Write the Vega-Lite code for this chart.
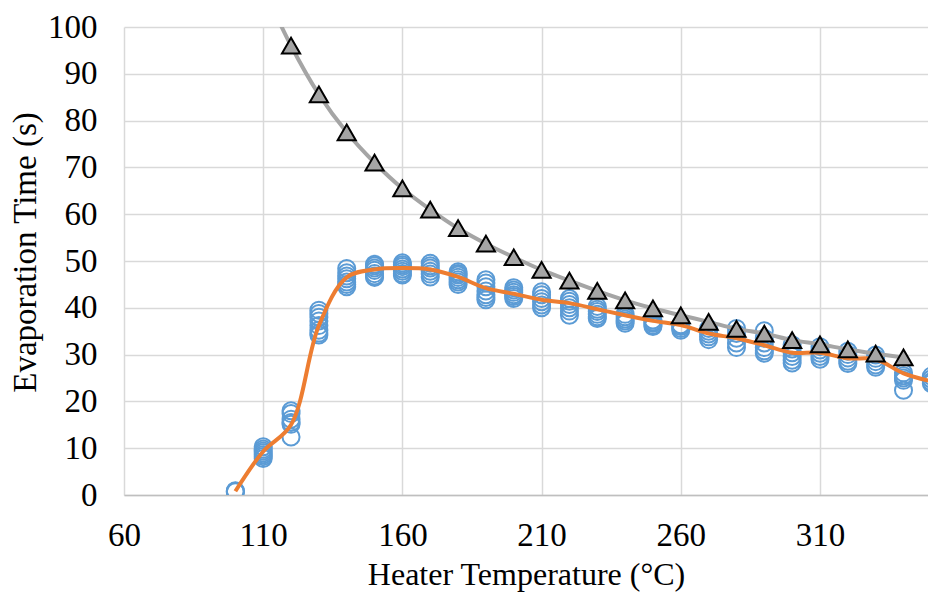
{
  "$schema": "https://vega.github.io/schema/vega-lite/v6.json",
  "width": 804,
  "height": 468,
  "autosize": {"type": "none"},
  "padding": {"left": 124, "top": 27, "right": 0, "bottom": 99},
  "config": {"view": {"stroke": null}, "font": "Liberation Serif"},
  "datasets": {
    "measured": [
      {"T":100,"v":0.7},{"T":100,"v":0.8},{"T":100,"v":0.9},
      {"T":110,"v":7.8},{"T":110,"v":8.2},{"T":110,"v":8.6},{"T":110,"v":9.0},{"T":110,"v":9.4},{"T":110,"v":9.8},{"T":110,"v":10.3},
      {"T":120,"v":18.0},{"T":120,"v":17.4},{"T":120,"v":16.2},{"T":120,"v":15.5},{"T":120,"v":15.1},{"T":120,"v":12.4},
      {"T":130,"v":39.5},{"T":130,"v":38.8},{"T":130,"v":38.0},{"T":130,"v":37.2},{"T":130,"v":36.2},{"T":130,"v":35.2},{"T":130,"v":34.6},{"T":130,"v":34.2},
      {"T":140,"v":48.4},{"T":140,"v":47.5},{"T":140,"v":46.8},{"T":140,"v":46.2},{"T":140,"v":45.5},{"T":140,"v":45.0},{"T":140,"v":44.5},
      {"T":150,"v":49.3},{"T":150,"v":49.0},{"T":150,"v":48.5},{"T":150,"v":48.0},{"T":150,"v":47.3},{"T":150,"v":46.8},{"T":150,"v":46.5},
      {"T":160,"v":49.6},{"T":160,"v":49.2},{"T":160,"v":48.8},{"T":160,"v":48.3},{"T":160,"v":47.8},{"T":160,"v":47.3},{"T":160,"v":47.0},
      {"T":170,"v":49.5},{"T":170,"v":49.0},{"T":170,"v":48.5},{"T":170,"v":47.8},{"T":170,"v":47.2},{"T":170,"v":46.6},
      {"T":180,"v":47.7},{"T":180,"v":47.3},{"T":180,"v":47.0},{"T":180,"v":46.5},{"T":180,"v":46.0},{"T":180,"v":45.5},{"T":180,"v":45.0},
      {"T":190,"v":46.0},{"T":190,"v":45.3},{"T":190,"v":44.5},{"T":190,"v":43.6},{"T":190,"v":42.8},{"T":190,"v":42.2},{"T":190,"v":41.7},
      {"T":200,"v":44.3},{"T":200,"v":43.8},{"T":200,"v":43.3},{"T":200,"v":42.8},{"T":200,"v":42.4},{"T":200,"v":42.0},
      {"T":210,"v":43.4},{"T":210,"v":42.8},{"T":210,"v":42.0},{"T":210,"v":41.3},{"T":210,"v":40.6},{"T":210,"v":40.0},
      {"T":220,"v":42.0},{"T":220,"v":41.4},{"T":220,"v":40.7},{"T":220,"v":40.0},{"T":220,"v":39.3},{"T":220,"v":38.4},
      {"T":230,"v":40.3},{"T":230,"v":39.7},{"T":230,"v":39.2},{"T":230,"v":38.6},{"T":230,"v":38.1},{"T":230,"v":37.7},
      {"T":240,"v":38.6},{"T":240,"v":38.1},{"T":240,"v":37.6},{"T":240,"v":37.2},{"T":240,"v":36.7},
      {"T":250,"v":37.4},{"T":250,"v":37.0},{"T":250,"v":36.7},{"T":250,"v":36.3},{"T":250,"v":36.0},
      {"T":260,"v":36.4},{"T":260,"v":36.0},{"T":260,"v":35.6},{"T":260,"v":35.2},
      {"T":270,"v":35.6},{"T":270,"v":35.0},{"T":270,"v":34.4},{"T":270,"v":33.8},{"T":270,"v":33.2},
      {"T":280,"v":35.6},{"T":280,"v":34.5},{"T":280,"v":33.5},{"T":280,"v":32.5},{"T":280,"v":31.5},
      {"T":290,"v":35.1},{"T":290,"v":33.5},{"T":290,"v":32.5},{"T":290,"v":31.5},{"T":290,"v":30.8},{"T":290,"v":30.3},
      {"T":300,"v":32.1},{"T":300,"v":31.2},{"T":300,"v":30.4},{"T":300,"v":29.6},{"T":300,"v":28.8},{"T":300,"v":28.2},
      {"T":310,"v":31.7},{"T":310,"v":31.0},{"T":310,"v":30.3},{"T":310,"v":29.6},{"T":310,"v":29.0},
      {"T":320,"v":30.7},{"T":320,"v":30.0},{"T":320,"v":29.3},{"T":320,"v":28.6},{"T":320,"v":28.1},
      {"T":330,"v":29.9},{"T":330,"v":29.2},{"T":330,"v":28.5},{"T":330,"v":27.8},{"T":330,"v":27.3},
      {"T":340,"v":26.1},{"T":340,"v":25.5},{"T":340,"v":25.0},{"T":340,"v":24.5},{"T":340,"v":22.4},
      {"T":350,"v":25.4},{"T":350,"v":24.8},{"T":350,"v":24.2},{"T":350,"v":23.8}
    ],
    "average": [
      {"T":100,"v":0.8},{"T":110,"v":9.3},{"T":120,"v":15.0},{"T":130,"v":36.2},{"T":140,"v":46.5},
      {"T":150,"v":48.2},{"T":160,"v":48.5},{"T":170,"v":48.2},{"T":180,"v":46.6},{"T":190,"v":44.2},
      {"T":200,"v":43.0},{"T":210,"v":41.7},{"T":220,"v":41.0},{"T":230,"v":39.7},{"T":240,"v":38.4},
      {"T":250,"v":37.2},{"T":260,"v":36.3},{"T":270,"v":34.5},{"T":280,"v":33.5},{"T":290,"v":32.0},
      {"T":300,"v":30.4},{"T":310,"v":30.4},{"T":320,"v":29.2},{"T":330,"v":29.0},{"T":340,"v":26.0},
      {"T":350,"v":24.3}
    ],
    "theory": [
      {"T":110,"v":108.5},{"T":120,"v":96.0},{"T":130,"v":85.6},{"T":140,"v":77.5},{"T":150,"v":71.0},
      {"T":160,"v":65.5},{"T":170,"v":61.0},{"T":180,"v":57.0},{"T":190,"v":53.7},{"T":200,"v":50.8},
      {"T":210,"v":48.1},{"T":220,"v":45.8},{"T":230,"v":43.6},{"T":240,"v":41.6},{"T":250,"v":39.9},
      {"T":260,"v":38.4},{"T":270,"v":37.0},{"T":280,"v":35.5},{"T":290,"v":34.5},{"T":300,"v":33.1},
      {"T":310,"v":32.2},{"T":320,"v":31.1},{"T":330,"v":30.2},{"T":340,"v":29.4}
    ]
  },
  "encoding": {
    "x": {
      "field": "T", "type": "quantitative",
      "scale": {"domain": [60, 348.8], "nice": false, "zero": false},
      "axis": {
        "values": [60, 110, 160, 210, 260, 310],
        "grid": true, "gridColor": "#d9d9d9", "gridWidth": 1.5,
        "domain": true, "domainColor": "#bfbfbf", "domainWidth": 1.5,
        "ticks": false, "tickSize": 0,
        "labelFont": "Liberation Serif", "labelFontSize": 33, "labelColor": "#000000",
        "labelBaseline": "alphabetic", "labelPadding": 50, "labelFlush": false, "labelOverlap": false,
        "title": "Heater Temperature (°C)",
        "titleFont": "Liberation Serif", "titleFontSize": 32, "titleFontWeight": "normal", "titleColor": "#000000",
        "titleBaseline": "alphabetic", "titleY": 89
      }
    },
    "y": {
      "field": "v", "type": "quantitative",
      "scale": {"domain": [0, 100], "nice": false},
      "axis": {
        "values": [0, 10, 20, 30, 40, 50, 60, 70, 80, 90, 100],
        "grid": true, "gridColor": "#d9d9d9", "gridWidth": 1.5,
        "domain": false, "ticks": false, "tickSize": 0,
        "labelFont": "Liberation Serif", "labelFontSize": 33, "labelColor": "#000000",
        "labelPadding": 27, "labelFlush": false, "labelOverlap": false,
        "title": "Evaporation Time (s)",
        "titleFont": "Liberation Serif", "titleFontSize": 33, "titleFontWeight": "normal", "titleColor": "#000000",
        "titleAngle": -90, "titleBaseline": "middle", "titleAlign": "center", "titleX": -99, "titleY": 225
      }
    }
  },
  "layer": [
    {
      "data": {"name": "measured"},
      "mark": {"type": "point", "shape": "circle", "filled": false, "stroke": "#5b9bd5", "strokeWidth": 2, "size": 290, "opacity": 1, "clip": true}
    },
    {
      "data": {"name": "average"},
      "mark": {"type": "line", "color": "#ed7d31", "strokeWidth": 4, "interpolate": "catmull-rom", "clip": true}
    },
    {
      "data": {"name": "theory"},
      "mark": {"type": "line", "color": "#a5a5a5", "strokeWidth": 4, "interpolate": "catmull-rom", "clip": true}
    },
    {
      "data": {"name": "theory"},
      "mark": {"type": "point", "shape": "triangle-up", "filled": true, "fill": "#a5a5a5", "stroke": "#000000", "strokeWidth": 2, "size": 330, "opacity": 1, "fillOpacity": 1, "clip": true}
    }
  ]
}
